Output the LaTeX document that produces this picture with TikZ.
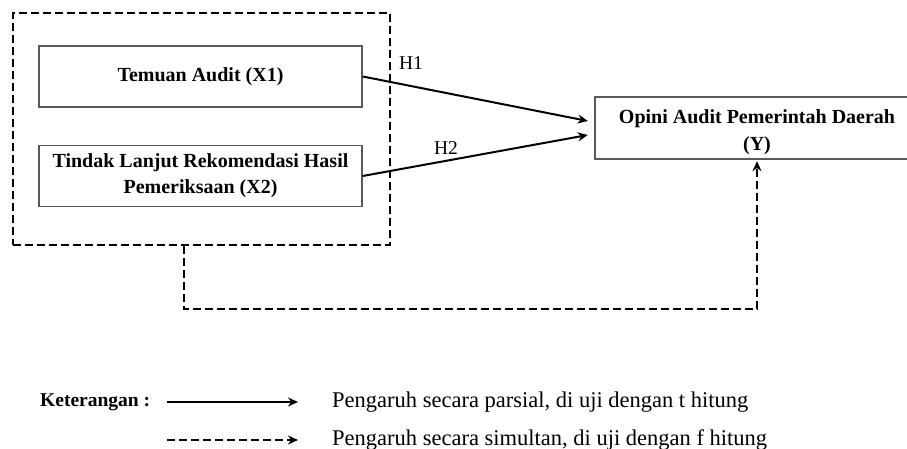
\documentclass[tikz,border=0pt]{standalone}
\usepackage{fontspec}
\setmainfont{Liberation Serif}
\usetikzlibrary{arrows.meta,calc}
\begin{document}
\begin{tikzpicture}[x=1pt,y=-1pt,
  varbox/.style={draw=black!65, line width=1.5pt, minimum width=323pt, minimum height=61pt, inner sep=0pt, align=center, font=\fontsize{20}{26}\selectfont\bfseries},
  solidarrow/.style={line width=2pt, -{Stealth[length=10pt,width=9pt]}},
  dasharrow/.style={line width=2.4pt, dash pattern=on 8pt off 4pt, -{Stealth[length=10pt,width=9pt]}},
  hlabel/.style={font=\fontsize{19.5}{22}\selectfont, inner sep=0pt},
  legtext/.style={font=\fontsize{22.5}{24}\selectfont, anchor=west, inner sep=0pt}]
\useasboundingbox (0,0) rectangle (907,449);
\clip (0,0) rectangle (907,449);
\fill[white] (0,0) rectangle (907,449);
% outer dashed group
\node[draw, line width=2.4pt, dash pattern=on 8pt off 4pt, minimum width=377pt, minimum height=232pt, inner sep=0pt] (grp) at (201.5,129) {};
% variable boxes
\node[varbox] (x1) at (200.5,76.5) {Temuan Audit (X1)};
\node[varbox] (x2) at (200.5,176) {Tindak Lanjut Rekomendasi Hasil\\Pemeriksaan (X2)};
\node[align=center, inner sep=0pt, minimum width=324pt, minimum height=62pt, font=\fontsize{20}{27}\selectfont\bfseries] (y) at (757,128) {};
\node[align=center, inner sep=0pt, font=\fontsize{20}{27}\selectfont\bfseries] (ytext) at (757,132) {Opini Audit Pemerintah Daerah\\(Y)};
\draw[black!65, line width=1.5pt] (y.north east) -- (y.north west) -- (y.south west) -- (y.south east);
% arrow end points
\coordinate (t1) at ($(y.west)+(-7,-7)$);
\coordinate (t2) at ($(y.west)+(-7,7)$);
\draw[solidarrow] (x1.east) -- (t1);
\draw[solidarrow] (x2.east) -- (t2);
\node[hlabel] (h1) at (411,63) {H1};
\node[hlabel] (h2) at (446,148) {H2};
% simultaneous dashed arrow
\coordinate (d0) at ($(grp.south west)+(172,0)$);
\coordinate (d1) at ($(d0)+(0,63)$);
\coordinate (ytip) at ($(y.south)+(0,2)$);
\draw[dasharrow] (d0) -- (d1) -| (ytip);
% legend
\node[anchor=west, inner sep=0pt, font=\fontsize{19.5}{24}\selectfont\bfseries] (ket) at (40,402) {Keterangan :};
\coordinate (ls1) at (167,402);
\coordinate (le1) at (298,402);
\coordinate (ls2) at (167,440);
\coordinate (le2) at (298,440);
\draw[solidarrow] (ls1) -- (le1);
\draw[dasharrow] (ls2) -- (le2);
\node[legtext] (l1) at (332,402) {Pengaruh secara parsial, di uji dengan t hitung};
\node[legtext] (l2) at (332,440) {Pengaruh secara simultan, di uji dengan f hitung};
\end{tikzpicture}
\end{document}
